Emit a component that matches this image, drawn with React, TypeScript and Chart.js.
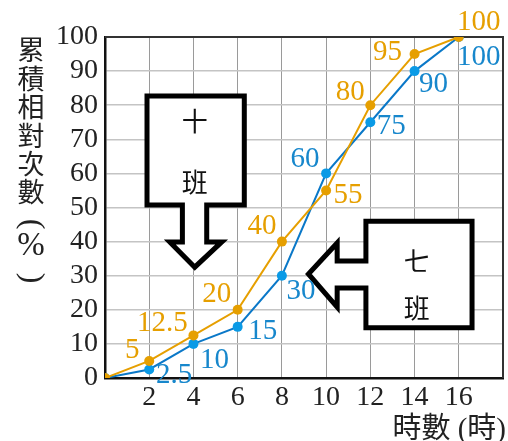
import React, { useEffect, useRef } from "react";
import { Chart, registerables } from "chart.js";

Chart.register(...registerables);

// ---- data ----
const hours = [0, 2, 4, 6, 8, 10, 12, 14, 16];
const class10Cum = [0, 5, 12.5, 20, 40, 55, 80, 95, 100]; // 十班 (orange)
const class7Cum = [0, 2.5, 10, 15, 30, 60, 75, 90, 100]; // 七班 (blue)
const class10Labels = ["", "5", "12.5", "20", "40", "55", "80", "95", "100"];
const class7Labels = ["", "2.5", "10", "15", "30", "60", "75", "90", "100"];
const yTitleChars = ["累", "積", "相", "對", "次", "數", "(", "%", ")"];
const xTitle = "時數 (時)";
const box10Text = ["十", "班"];
const box7Text = ["七", "班"];

// ---- styling ----
const orange = "#E69F00";
const blueLine = "#0A78C8";
const bluePoint = "#0A9AE6";
const blueText = "#1787CC";
const off10 = [[0, 0], [-17, -11], [-31, -12], [-21, -15], [-20, -15], [22, 5], [-20, -13], [-27, -2], [20, -15]];
const off7 = [[0, 0], [25, 6], [21, 16], [25, 5], [19, 16], [-21, -14], [21, 4], [19, 13], [20, 20]];
const yTitleY = [50, 78.5, 107, 135.5, 163.5, 191.5, 224, 246, 278];

// annotation shapes in data units
const arrowDown = [
  [1.9, 82.7], [6.3, 82.7], [6.3, 50.7], [4.6, 50.7], [4.6, 39.9], [5.28, 39.9],
  [4.06, 32.5], [2.93, 39.9], [3.5, 39.9], [3.5, 50.7], [1.9, 50.7],
];
const arrowLeft = [
  [11.8, 46], [16.6, 46], [16.6, 14.7], [11.8, 14.7], [11.8, 26.4], [10.5, 26.4],
  [10.5, 20.8], [9.2, 30.5], [10.5, 39.6], [10.5, 34.3], [11.8, 34.3],
];
const box10TextPos = [[4.06, 75.2], [4.06, 57.5]];
const box7TextPos = [[14.1, 34.3], [14.1, 20.5]];

const serif = "'Liberation Serif'";
const cjk = "'Noto Sans CJK TC'";

const decoPlugin = {
  id: "deco",
  beforeDatasetsDraw(chart: any) {
    const { ctx, scales, chartArea } = chart;
    const xs = scales.x, ys = scales.y;
    ctx.save();
    ctx.strokeStyle = "#333";
    ctx.lineWidth = 2;
    ctx.beginPath();
    ctx.moveTo(chartArea.left, chartArea.top);
    ctx.lineTo(chartArea.right, chartArea.top);
    ctx.lineTo(chartArea.right, chartArea.bottom);
    ctx.stroke();
    const drawShape = (pts: number[][]) => {
      ctx.beginPath();
      pts.forEach((p, i) => {
        const px = xs.getPixelForValue(p[0]);
        const py = ys.getPixelForValue(p[1]);
        if (i === 0) ctx.moveTo(px, py);
        else ctx.lineTo(px, py);
      });
      ctx.closePath();
      ctx.fillStyle = "#fff";
      ctx.fill();
      ctx.strokeStyle = "#000";
      ctx.lineWidth = 5;
      ctx.lineJoin = "miter";
      ctx.stroke();
    };
    drawShape(arrowDown);
    drawShape(arrowLeft);
    ctx.fillStyle = "#111";
    ctx.font = `26px ${cjk}`;
    ctx.textAlign = "center";
    ctx.textBaseline = "middle";
    box10Text.forEach((t, i) => {
      ctx.fillText(t, xs.getPixelForValue(box10TextPos[i][0]), ys.getPixelForValue(box10TextPos[i][1]));
    });
    box7Text.forEach((t, i) => {
      ctx.fillText(t, xs.getPixelForValue(box7TextPos[i][0]), ys.getPixelForValue(box7TextPos[i][1]));
    });
    ctx.restore();
  },
  afterDatasetsDraw(chart: any) {
    const { ctx } = chart;
    ctx.save();
    ctx.font = `29px ${serif}`;
    ctx.textAlign = "center";
    ctx.textBaseline = "middle";
    const m10 = chart.getDatasetMeta(0).data;
    const m7 = chart.getDatasetMeta(1).data;
    ctx.fillStyle = orange;
    m10.forEach((pt: any, i: number) => {
      if (!class10Labels[i]) return;
      ctx.fillText(class10Labels[i], pt.x + off10[i][0], pt.y + off10[i][1]);
    });
    ctx.fillStyle = blueText;
    m7.forEach((pt: any, i: number) => {
      if (!class7Labels[i]) return;
      ctx.fillText(class7Labels[i], pt.x + off7[i][0], pt.y + off7[i][1]);
    });
    // vertical y-axis title
    ctx.fillStyle = "#222";
    yTitleChars.forEach((c, i) => {
      const y = yTitleY[i];
      if (c === "(" || c === ")") {
        ctx.save();
        ctx.translate(31, y);
        ctx.rotate(Math.PI / 2);
        ctx.font = `32px ${serif}`;
        ctx.fillText(c, 0, 0);
        ctx.restore();
      } else if (c === "%") {
        ctx.font = `33px ${serif}`;
        ctx.fillText(c, 31, y);
      } else {
        ctx.font = `27px ${cjk}`;
        ctx.fillText(c, 31, y);
      }
    });
    ctx.font = `29px ${serif}, ${cjk}`;
    ctx.textAlign = "right";
    ctx.fillText(xTitle, 506, 430);
    ctx.restore();
  },
};

export default function App() {
  const ref = useRef<HTMLCanvasElement>(null);
  useEffect(() => {
    if (!ref.current) return;
    const chart = new Chart(ref.current, {
      type: "line",
      data: {
        datasets: [
          {
            label: "十班",
            data: hours.map((h, i) => ({ x: h, y: class10Cum[i] })),
            borderColor: orange,
            backgroundColor: orange,
            pointBackgroundColor: orange,
            pointBorderWidth: 0,
            pointRadius: 5,
            borderWidth: 2,
          },
          {
            label: "七班",
            data: hours.map((h, i) => ({ x: h, y: class7Cum[i] })),
            borderColor: blueLine,
            backgroundColor: bluePoint,
            pointBackgroundColor: bluePoint,
            pointBorderWidth: 0,
            pointRadius: 5,
            borderWidth: 2,
          },
        ],
      },
      options: {
        responsive: false,
        animation: false,
        layout: { padding: { top: 37, right: 5, left: 0, bottom: 0 } },
        plugins: { legend: { display: false }, tooltip: { enabled: false } },
        scales: {
          x: {
            type: "linear",
            min: 0,
            max: 18,
            afterFit(scale: any) {
              scale.height = 63;
            },
            ticks: {
              stepSize: 2,
              autoSkip: false,
              color: "#222",
              font: { family: serif, size: 28 },
              padding: 3,
              maxRotation: 0,
              callback: (v: any) => (v === 0 || v === 18 ? "" : String(v)),
            },
            grid: { color: "#9a9a9a", lineWidth: 1, drawTicks: false },
            border: { color: "#111", width: 2.5 },
          },
          y: {
            min: 0,
            max: 100,
            afterFit(scale: any) {
              scale.width = 105;
            },
            ticks: {
              stepSize: 10,
              autoSkip: false,
              color: "#222",
              font: { family: serif, size: 28 },
              padding: 7,
            },
            grid: { color: "#c4c4c4", lineWidth: 1.5, drawTicks: false },
            border: { color: "#111", width: 2.5 },
          },
        },
      },
      plugins: [decoPlugin],
    });
    return () => chart.destroy();
  }, []);
  return (
    <div style={{ position: "fixed", left: 0, top: 0, width: 508, height: 441, background: "#fff" }}>
      <canvas ref={ref} width={508} height={441} />
    </div>
  );
}
